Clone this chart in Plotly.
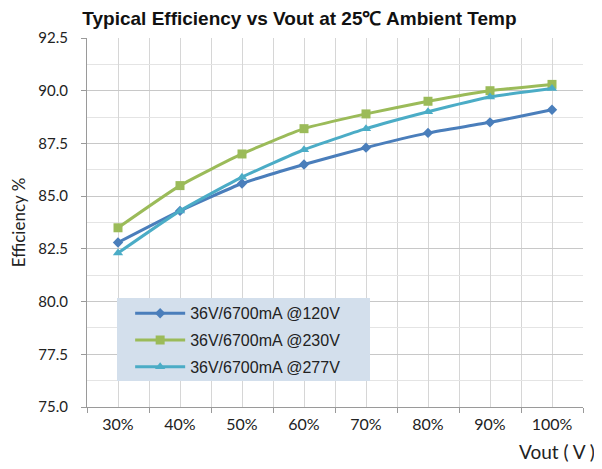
import plotly.graph_objects as go

categories = ["30%", "40%", "50%", "60%", "70%", "80%", "90%", "100%"]
eff_120 = [82.8, 84.3, 85.6, 86.5, 87.3, 88.0, 88.5, 89.1]
eff_230 = [83.5, 85.5, 87.0, 88.2, 88.9, 89.5, 90.0, 90.3]
eff_277 = [82.3, 84.3, 85.9, 87.2, 88.2, 89.0, 89.7, 90.1]
series_names = ["36V/6700mA @120V", "36V/6700mA @230V", "36V/6700mA @277V"]

xpos = list(range(len(categories)))
colors = ["#4a7ebb", "#9bbb59", "#4bacc6"]
symbols = ["diamond", "square", "triangle-up"]
sizes = [8, 9, 9]

fig = go.Figure()
for i, (vals, name, c, s, sz) in enumerate(zip([eff_120, eff_230, eff_277], series_names, colors, symbols, sizes)):
    fig.add_trace(go.Scatter(
        x=xpos, y=vals, name=name, mode="lines+markers", legendgroup=f"g{i}",
        line=dict(color=c, width=3, shape="spline", smoothing=0.5),
        marker=dict(symbol=s, size=sz, color=c),
    ))

boundaries = [i - 0.5 for i in range(len(categories) + 1)]

# page body has an 8px default margin, so the figure is sized 594x461
fig.update_layout(
    width=594, height=461,
    margin=dict(l=79, r=19, t=30, b=62),
    paper_bgcolor="white", plot_bgcolor="white",
    font=dict(family="Lato, Liberation Sans, sans-serif", size=15, color="#222"),
    title=dict(text="<b>Typical Efficiency vs Vout at 25℃ Ambient Temp</b>",
               x=0.4907, xanchor="center", y=0.978, yanchor="middle",
               font=dict(family="Liberation Sans, Arial", size=19, color="#111")),
    showlegend=True,
    legend=dict(x=0.087, y=0.30, xanchor="left", yanchor="top",
                bgcolor="rgba(0,0,0,0)", borderwidth=0,
                font=dict(family="Liberation Sans, Arial", size=16, color="#222"),
                itemwidth=50, tracegroupgap=3),
    shapes=[dict(type="rect", xref="paper", yref="paper",
                 x0=(117 - 87) / 496, x1=(370 - 87) / 496,
                 y0=(407 - 381) / 369, y1=(407 - 298) / 369,
                 fillcolor="#d3dfec", line=dict(width=0), layer="above")],
    xaxis=dict(
        range=[-0.5, len(categories) - 0.5], automargin=False,
        tickmode="array", tickvals=xpos, ticktext=categories,
        ticks="", showgrid=True, gridcolor="#d6d6d6", gridwidth=1,
        ticklabelstandoff=3, tickfont=dict(size=16),
        showline=True, linecolor="#9a9a9a", linewidth=1, zeroline=False,
        minor=dict(tickmode="array", tickvals=boundaries, ticks="outside",
                   ticklen=5, tickcolor="#9a9a9a", showgrid=True,
                   gridcolor="#d6d6d6", gridwidth=1),
        fixedrange=True,
    ),
    yaxis=dict(
        range=[75, 92.5], dtick=2.5, tick0=75, tickformat=".1f", automargin=False,
        ticks="outside", ticklen=5, tickcolor="#9a9a9a", ticklabelstandoff=10,
        showgrid=True, gridcolor="#c8c8c8", gridwidth=1,
        showline=True, linecolor="#9a9a9a", linewidth=1, zeroline=False,
        minor=dict(dtick=1.25, tick0=75, showgrid=True, gridcolor="#e4e4e4", gridwidth=1),
        title=dict(text="Efficiency %", standoff=27, font=dict(size=17)),
        fixedrange=True,
    ),
    annotations=[dict(text="Vout ( V )", xref="paper", yref="paper",
                      x=1.028, y=-0.12, xanchor="right", yanchor="middle",
                      showarrow=False, font=dict(size=19))],
)

fig.write_html("out.html")
